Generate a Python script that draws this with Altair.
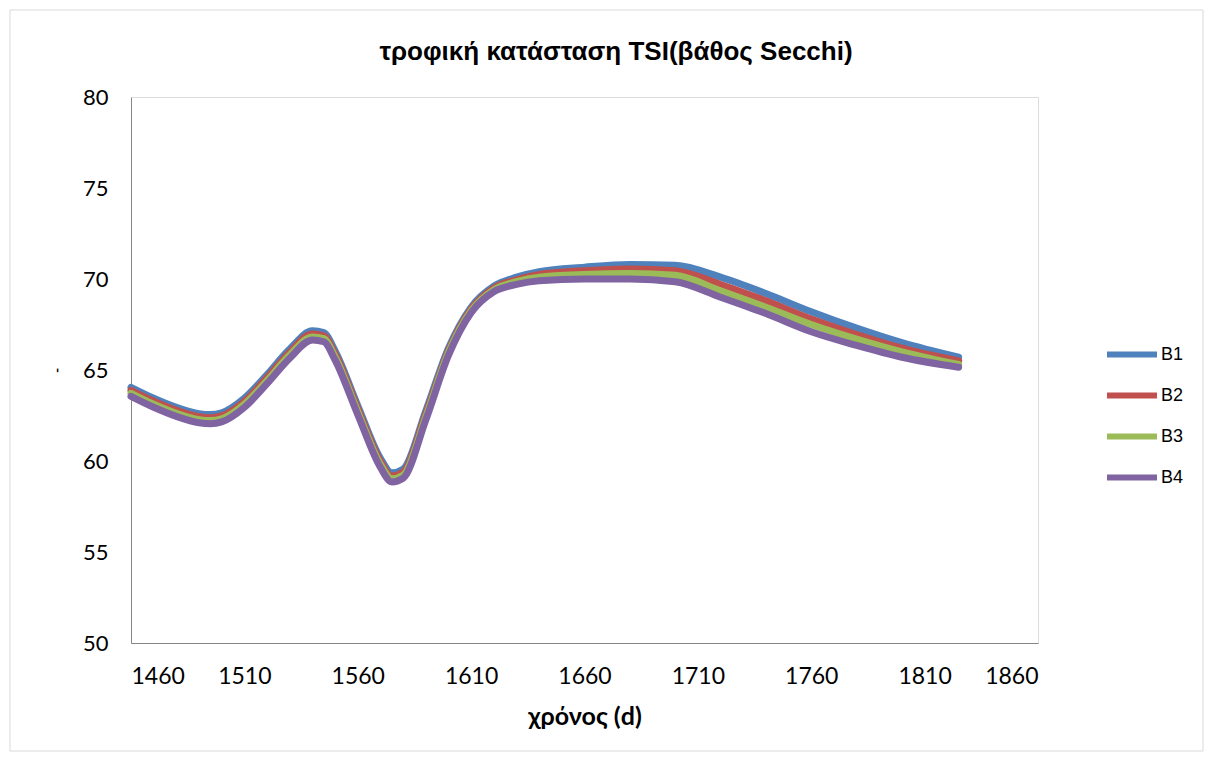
import altair as alt
import pandas as pd

days = [1460, 1470, 1480, 1490, 1495, 1500, 1510, 1520, 1530, 1540, 1545, 1550,
        1560, 1570, 1575, 1580, 1590, 1600, 1610, 1620, 1630, 1640, 1660, 1680,
        1700, 1720, 1740, 1760, 1780, 1800, 1825]

b1 = [64.05, 63.45, 62.95, 62.6, 62.55, 62.65, 63.45, 64.75, 66.15, 67.15, 67.05, 66.05,
      63.05, 60.15, 59.35, 59.55, 62.75, 66.2, 68.45, 69.6, 70.1, 70.4, 70.65, 70.8,
      70.75, 70.1, 69.2, 68.2, 67.3, 66.5, 65.7]
b2 = [63.88, 63.28, 62.78, 62.43, 62.38, 62.48, 63.28, 64.58, 65.98, 66.98, 66.88, 65.88,
      62.88, 59.98, 59.18, 59.38, 62.58, 66.05, 68.35, 69.5, 69.95, 70.25, 70.45, 70.55,
      70.45, 69.7, 68.8, 67.8, 66.95, 66.2, 65.5]
b3 = [63.72, 63.12, 62.62, 62.27, 62.22, 62.32, 63.12, 64.42, 65.82, 66.82, 66.72, 65.72,
      62.72, 59.82, 59.02, 59.22, 62.42, 65.95, 68.25, 69.4, 69.85, 70.1, 70.25, 70.3,
      70.2, 69.35, 68.45, 67.5, 66.7, 66.0, 65.3]
b4 = [63.55, 62.95, 62.45, 62.1, 62.05, 62.15, 62.95, 64.25, 65.65, 66.65, 66.55, 65.55,
      62.55, 59.65, 58.85, 59.05, 62.25, 65.8, 68.15, 69.3, 69.7, 69.9, 70.0, 70.0,
      69.85, 69.0, 68.1, 67.1, 66.35, 65.7, 65.15]

series_names = ["B1", "B2", "B3", "B4"]
series_colors = ["#4F81BD", "#C0504D", "#9BBB59", "#8064A2"]
x_ticks = [1460, 1510, 1560, 1610, 1660, 1710, 1760, 1810, 1860]
y_ticks = [50, 55, 60, 65, 70, 75, 80]
title_text = "τροφική κατάσταση TSI(βάθος Secchi)"

rows = []
for name, vals in zip(series_names, [b1, b2, b3, b4]):
    for d, v in zip(days, vals):
        rows.append({"d": d, "TSI": v, "series": name})
df = pd.DataFrame(rows)

W, H = 907, 546
PL, PT, PR, PB = 123, 89, 167, 110

lines = alt.Chart(df).mark_line(strokeWidth=7, interpolate="monotone", strokeCap="round").encode(
    x=alt.X("d:Q", scale=alt.Scale(domain=[1460, 1860], nice=False),
            axis=alt.Axis(values=x_ticks, title="χρόνος (d)", format="d",
                          labelFont="Lato", labelFontSize=23, labelColor="#000",
                          labelPadding=22, ticks=False, domainColor="#868686",
                          titleFont="Lato", titleFontSize=25, titleFontWeight="bold",
                          titleColor="#000", titlePadding=16, grid=False)),
    y=alt.Y("TSI:Q", scale=alt.Scale(domain=[50, 80], nice=False),
            axis=alt.Axis(values=y_ticks, title="-", labelFont="Lato", labelFontSize=22,
                          labelColor="#000", labelPadding=23, ticks=False,
                          domainColor="#868686", titleFont="Lato", titleFontSize=14,
                          titleColor="#000", titlePadding=18, grid=False)),
    color=alt.Color("series:N", scale=alt.Scale(domain=series_names, range=series_colors),
                    legend=alt.Legend(title=None, orient="none", legendX=973, legendY=241,
                                      symbolType="stroke", symbolSize=2500,
                                      symbolStrokeWidth=6, clipHeight=33, rowPadding=8,
                                      labelFont="Liberation Sans", labelFontSize=18,
                                      labelColor="#000", labelOffset=1)),
    order=alt.Order("series:N"),
)

frame = alt.Chart(pd.DataFrame({"a": [0]})).mark_rect(filled=False, stroke="#d9d9d9", strokeWidth=1).encode(
    x=alt.value(-PL + 2), x2=alt.value(W + PR - 2),
    y=alt.value(-PT + 2), y2=alt.value(H + PB - 2),
)

title = alt.Chart(pd.DataFrame({"t": [title_text]})).mark_text(
    font="Liberation Sans", fontSize=26, fontWeight="bold", color="#000",
    align="center", baseline="alphabetic",
).encode(text="t:N", x=alt.value(485), y=alt.value(-37))

chart = alt.layer(frame, title, lines).properties(
    width=W, height=H,
    padding={"left": PL, "top": PT, "right": PR, "bottom": PB},
    autosize=alt.AutoSizeParams(type="none"),
).configure_view(stroke=None).configure(background="white")

chart.save("out.html", embed_options={"renderer": "svg", "actions": False})
